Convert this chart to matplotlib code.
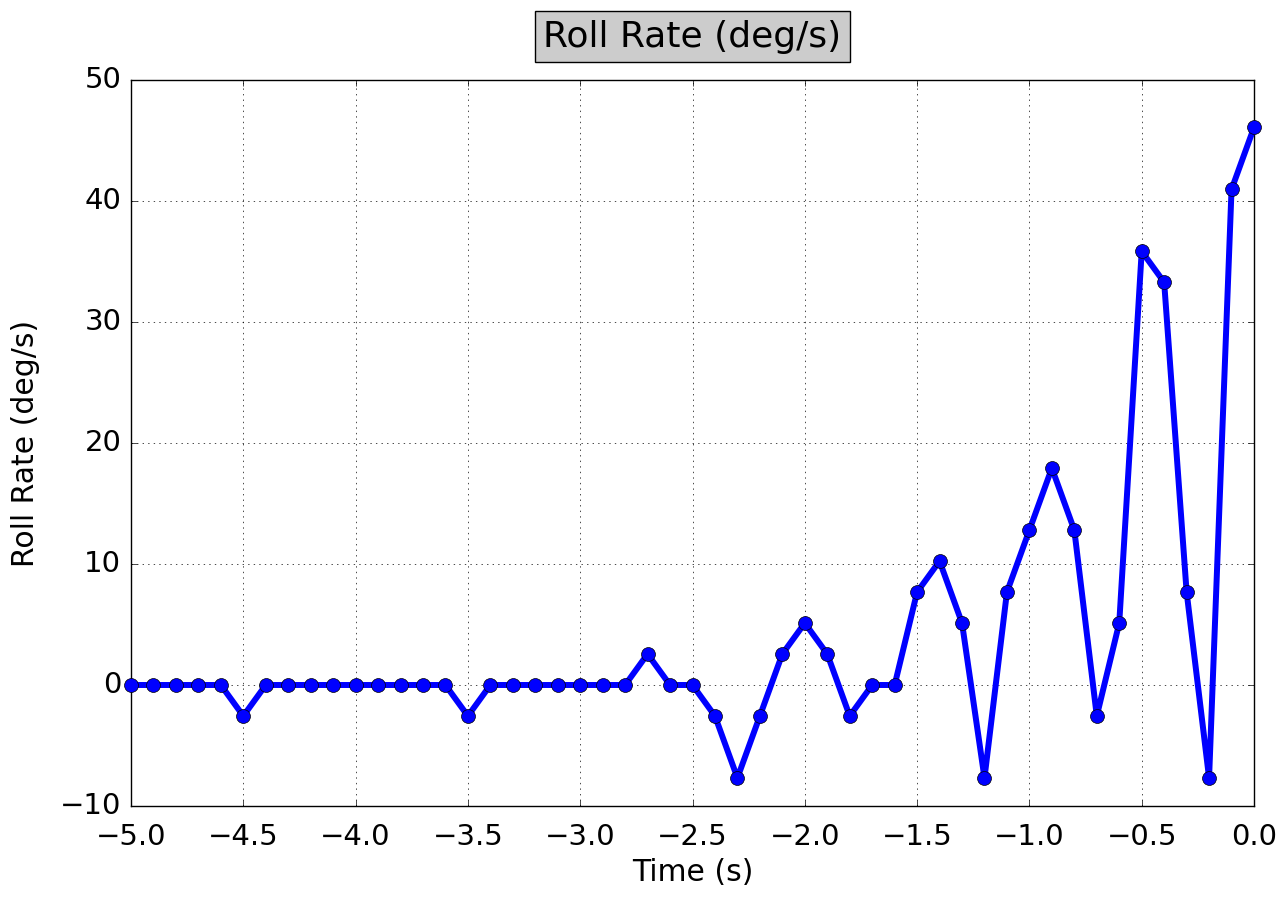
import numpy as np
import matplotlib.pyplot as plt

plt.style.use('classic')

# time before event, 0.1 s steps
t = np.round(np.arange(-5.0, 0.01, 0.1), 1)

# roll rate samples (deg/s), quantized at 2.56
roll_rate = [0, 0, 0, 0, 0, -2.56, 0, 0, 0, 0,
             0, 0, 0, 0, 0, -2.56, 0, 0, 0, 0,
             0, 0, 0, 2.56, 0, 0, -2.56, -7.68, -2.56, 2.56,
             5.12, 2.56, -2.56, 0, 0, 7.68, 10.24, 5.12, -7.68, 7.68,
             12.8, 17.92, 12.8, -2.56, 5.12, 35.84, 33.28, 7.68, -7.68, 40.96,
             46.08]

x_ticks = np.arange(-5.0, 0.01, 0.5)

fig = plt.figure(figsize=(12.87, 8.97), dpi=100, facecolor='white')
ax = fig.add_axes([131/1287, 1 - 806/897, (1254-131)/1287, (806-80)/897])

ax.plot(t, roll_rate, 'b-o', linewidth=4.3, markersize=10, clip_on=False, zorder=3)
ax.set_xlim(-5.0, 0.0)
ax.set_ylim(-10, 50)
ax.set_xticks(x_ticks)
ax.xaxis.set_major_formatter(plt.FuncFormatter(lambda v, p: ('%.1f' % v).replace('-', '\u2212')))
ax.grid(True)

ax.set_xlabel('Time (s)', fontsize=21.5)
ax.set_ylabel('Roll Rate (deg/s)', fontsize=21.5, labelpad=14)
ax.tick_params(labelsize=21)
ax.tick_params(axis='x', pad=12)
ax.tick_params(axis='y', pad=7)
ax.set_title('Roll Rate (deg/s)', fontsize=26, pad=24,
             bbox=dict(facecolor='#cccccc', edgecolor='black', pad=6))

fig.savefig('out.png', dpi=100, facecolor='white')
